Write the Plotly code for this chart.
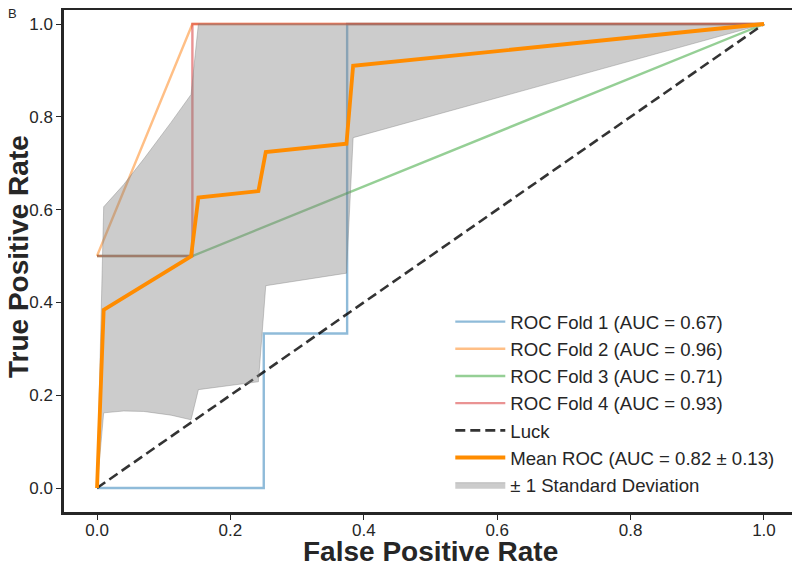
import plotly.graph_objects as go

# ---- data ----
fold_names = ["ROC Fold 1 (AUC = 0.67)", "ROC Fold 2 (AUC = 0.96)",
              "ROC Fold 3 (AUC = 0.71)", "ROC Fold 4 (AUC = 0.93)"]
fold1_fpr = [0.0, 0.25, 0.25, 0.375, 0.375, 1.0]
fold1_tpr = [0.0, 0.0, 0.333, 0.333, 1.0, 1.0]
fold2_fpr = [0.0, 0.143, 1.0]
fold2_tpr = [0.5, 1.0, 1.0]
fold3_fpr = [0.0, 0.143, 1.0]
fold3_tpr = [0.5, 0.5, 1.0]
fold4_fpr = [0.0, 0.143, 0.143, 1.0]
fold4_tpr = [0.5, 0.5, 1.0, 1.0]

luck_x = [0.0, 1.0]
luck_y = [0.0, 1.0]

mean_fpr = [0.0, 0.010, 0.141, 0.152, 0.242, 0.253, 0.374, 0.384, 1.0]
mean_tpr = [0.0, 0.384, 0.499, 0.626, 0.640, 0.724, 0.742, 0.910, 1.0]

band_fpr = [0.0, 0.010, 0.040, 0.070, 0.111, 0.141, 0.152, 0.242, 0.253, 0.374, 0.384, 1.0]
band_upper = [0.0, 0.606, 0.654, 0.709, 0.788, 0.848, 1.0, 1.0, 1.0, 1.0, 1.0, 1.0]
band_lower = [0.0, 0.162, 0.166, 0.165, 0.157, 0.147, 0.212, 0.229, 0.436, 0.463, 0.755, 1.0]

mean_label = "Mean ROC (AUC = 0.82 \u00b1 0.13)"
std_label = "\u00b1 1 Standard Deviation"
luck_label = "Luck"
panel_label = "B"
x_title = "False Positive Rate"
y_title = "True Positive Rate"
tick_vals = [0.0, 0.2, 0.4, 0.6, 0.8, 1.0]
tick_text = ["0.0", "0.2", "0.4", "0.6", "0.8", "1.0"]

fold_colors = ["rgba(31,119,180,0.5)", "rgba(255,127,14,0.5)",
               "rgba(44,160,44,0.5)", "rgba(214,39,40,0.5)"]

FONT = "Liberation Sans, Arial, sans-serif"
INK = "#262626"

fig = go.Figure()
folds = [(fold1_fpr, fold1_tpr), (fold2_fpr, fold2_tpr),
         (fold3_fpr, fold3_tpr), (fold4_fpr, fold4_tpr)]
for i, ((fx, fy), name, col) in enumerate(zip(folds, fold_names, fold_colors)):
    fig.add_trace(go.Scatter(x=fx, y=fy, mode="lines", name=name,
                             line=dict(color=col, width=2.4), legendrank=i + 1))

fig.add_trace(go.Scatter(x=luck_x, y=luck_y, mode="lines", name=luck_label,
                         line=dict(color="rgba(0,0,0,0.8)", width=2.6, dash="10px,5px"),
                         legendrank=5))

# std band polygon
poly_x = band_fpr + band_fpr[::-1]
poly_y = band_upper + band_lower[::-1]
fig.add_trace(go.Scatter(x=poly_x, y=poly_y, mode="lines", fill="toself",
                         fillcolor="rgba(128,128,128,0.4)",
                         line=dict(color="rgba(128,128,128,0.4)", width=1),
                         name=std_label, legendrank=7))

fig.add_trace(go.Scatter(x=mean_fpr, y=mean_tpr, mode="lines", name=mean_label,
                         line=dict(color="#ff8c00", width=3.8), legendrank=6))

axis_common = dict(showgrid=False, zeroline=False,
                   showline=True, mirror=True, linecolor=INK, linewidth=2.5,
                   ticks="outside", ticklen=5, tickwidth=1.3, tickcolor=INK,
                   tickvals=tick_vals, ticktext=tick_text, automargin=False,
                   tickfont=dict(size=17, color=INK, family=FONT))

fig.update_xaxes(**axis_common, range=[-0.0495, 1.0495], ticklabelstandoff=-4)
fig.update_yaxes(**axis_common, range=[-0.0517, 1.0302])

title_font = dict(size=28, color=INK, family=FONT, weight="bold")
fig.add_annotation(text=x_title, xref="paper", yref="paper",
                   x=0.5, y=-0.079, xanchor="center", yanchor="middle",
                   showarrow=False, font=title_font)
fig.add_annotation(text=y_title, xref="paper", yref="paper", textangle=-90,
                   x=-0.0614, y=0.51, xanchor="center", yanchor="middle",
                   showarrow=False, font=title_font)

fig.add_annotation(text=panel_label, xref="paper", yref="paper",
                   x=-0.0709, y=0.994, xanchor="center", yanchor="middle",
                   showarrow=False, font=dict(size=13, color=INK, family=FONT))

fig.update_layout(
    width=792, height=553,
    margin=dict(l=56, r=3, t=2, b=49),
    plot_bgcolor="white", paper_bgcolor="white",
    font=dict(family=FONT, color=INK),
    legend=dict(x=0.527, y=0.4163, xanchor="left", yanchor="top",
                bgcolor="rgba(0,0,0,0)", borderwidth=0,
                font=dict(size=18.6, color=INK, family=FONT),
                itemwidth=50, tracegroupgap=0),
    showlegend=True,
)

fig.write_html("out.html")
